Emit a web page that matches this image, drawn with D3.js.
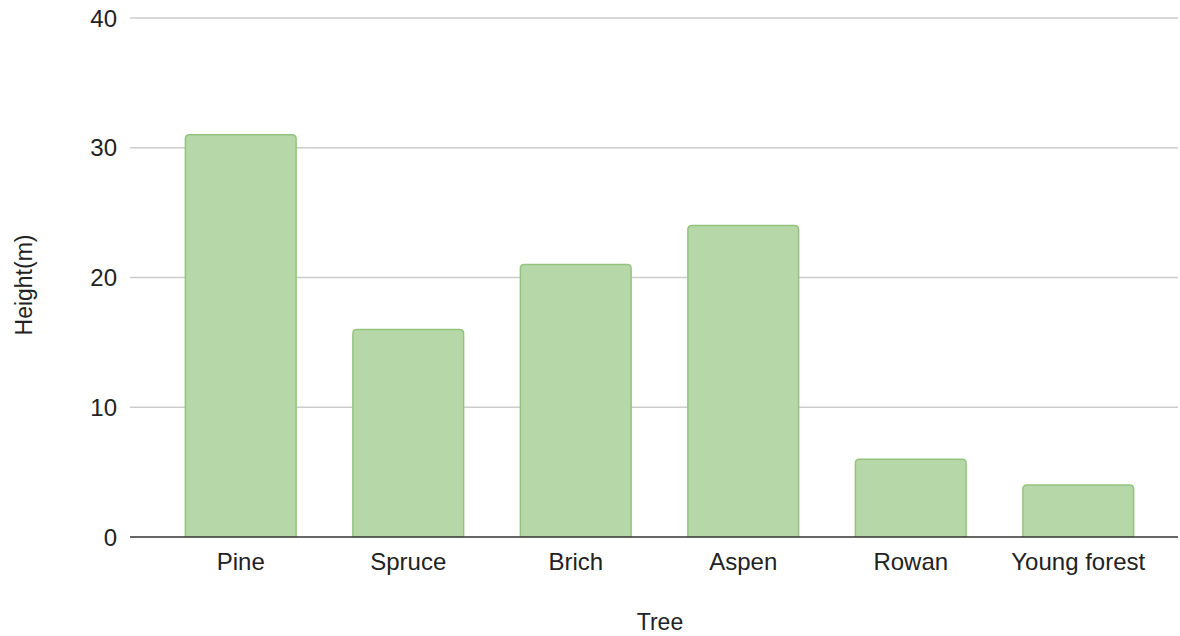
<!DOCTYPE html>
<html><head><meta charset="utf-8">
<script src="https://cdn.jsdelivr.net/npm/d3@7"></script>
<style>body{margin:0;background:#fff}svg{display:block;font-family:"Liberation Sans",Arial,sans-serif}</style>
</head><body>
<svg id="c" width="1180" height="636"></svg>
<script>
const categories = ["Pine","Spruce","Brich","Aspen","Rowan","Young forest"];
const heights = [31,16,21,24,6,4];
const yTicks = [0,10,20,30,40];
const xTitle = "Tree";
const yTitle = "Height(m)";

(function(){
const svg = d3.select("#c");
const pLeft = 130, pRight = 1178, pTop = 18, pBottom = 537;
const x = d3.scaleBand().domain(categories).range([157,1162]).paddingInner(0.33).paddingOuter(0.165);
const y = d3.scaleLinear().domain([0,40]).range([pBottom, pTop]);
const txt = "#222";

// gridlines
svg.append("g").selectAll("line").data(yTicks.filter(d=>d!==0)).join("line")
  .attr("x1",pLeft).attr("x2",pRight).attr("y1",d=>y(d)).attr("y2",d=>y(d))
  .attr("stroke","#cccccc").attr("stroke-width",1.3);

// y tick labels
svg.append("g").selectAll("text").data(yTicks).join("text")
  .attr("x",117).attr("y",d=>y(d)+8.5).attr("text-anchor","end")
  .attr("font-size",24).attr("fill",txt).text(d=>d);

// bars with rounded top corners
const r = 4;
function barPath(d){
  const x0 = x(d.c)+0.75, x1 = x(d.c)+x.bandwidth()-0.75, y0 = y(d.v), y1 = y(0);
  return `M${x0},${y1} L${x0},${y0+r} Q${x0},${y0} ${x0+r},${y0} L${x1-r},${y0} Q${x1},${y0} ${x1},${y0+r} L${x1},${y1}`;
}
svg.append("g").selectAll("path").data(categories.map((c,i)=>({c,v:heights[i]}))).join("path")
  .attr("d",barPath).attr("fill","#b6d7a8").attr("stroke","#93c47d").attr("stroke-width",1.5);

// baseline
svg.append("line").attr("x1",pLeft).attr("x2",pRight).attr("y1",y(0)).attr("y2",y(0))
  .attr("stroke","#333").attr("stroke-width",1.5);

// x labels
svg.append("g").selectAll("text").data(categories).join("text")
  .attr("x",d=>x(d)+x.bandwidth()/2).attr("y",570).attr("text-anchor","middle")
  .attr("font-size",24).attr("fill",txt).text(d=>d);

// axis titles
svg.append("text").attr("x",660).attr("y",630).attr("text-anchor","middle")
  .attr("font-size",23).attr("fill",txt).text(xTitle);
svg.append("text").attr("transform","translate(32,285) rotate(-90)").attr("text-anchor","middle")
  .attr("font-size",23).attr("fill",txt).text(yTitle);
})();
</script>
</body></html>
